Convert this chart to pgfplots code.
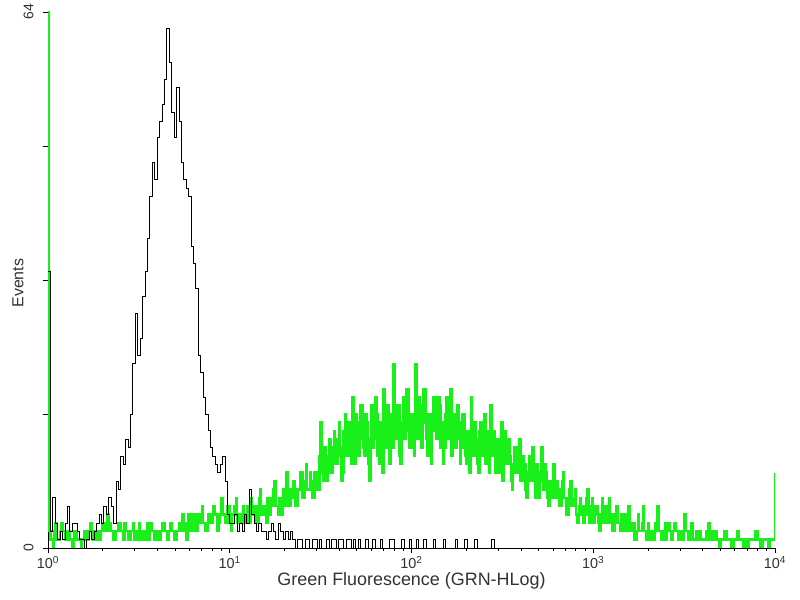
\documentclass[border=0pt]{standalone}
\usepackage{pgfplots}
\usepackage{pgfplotstable}
\pgfplotsset{compat=1.18}
\usepackage{fontspec}
\setmainfont{Liberation Sans}
\definecolor{flgreen}{RGB}{25,240,25}
\definecolor{txt}{RGB}{50,50,50}

% green histogram, channels every 1/150 decade from 10^0
\pgfplotstableread[row sep=\\,header=false]{
64\\
2\\1\\1\\0\\2\\3\\1\\1\\1\\2\\3\\2\\2\\1\\1\\2\\2\\1\\1\\0\\
1\\2\\2\\1\\1\\1\\0\\1\\1\\2\\2\\1\\1\\2\\3\\2\\1\\1\\2\\1\\
2\\1\\1\\2\\3\\2\\2\\3\\4\\2\\3\\2\\2\\1\\1\\2\\2\\3\\3\\2\\
2\\1\\3\\2\\2\\1\\1\\2\\2\\3\\1\\1\\2\\1\\3\\2\\1\\2\\2\\1\\
2\\3\\1\\2\\3\\2\\2\\1\\1\\2\\2\\1\\2\\3\\3\\2\\2\\1\\1\\2\\
3\\2\\2\\1\\1\\2\\2\\3\\3\\2\\4\\3\\2\\1\\3\\4\\2\\3\\4\\2\\
3\\4\\2\\3\\4\\3\\5\\3\\3\\2\\2\\4\\4\\3\\3\\5\\5\\4\\4\\2\\
3\\4\\6\\4\\4\\3\\3\\5\\5\\3\\2\\4\\4\\5\\6\\3\\3\\4\\4\\3\\
5\\4\\3\\5\\4\\3\\6\\4\\4\\5\\5\\3\\3\\6\\7\\4\\4\\5\\5\\3\\
6\\4\\4\\6\\5\\7\\8\\5\\5\\4\\6\\5\\4\\7\\7\\5\\9\\6\\5\\7\\
6\\8\\8\\5\\5\\7\\7\\9\\9\\6\\6\\8\\10\\7\\7\\9\\8\\6\\6\\9\\
9\\7\\7\\11\\15\\9\\8\\12\\11\\8\\9\\13\\12\\9\\10\\14\\13\\10\\11\\15\\
12\\8\\9\\14\\16\\11\\11\\15\\14\\10\\18\\13\\10\\16\\15\\11\\13\\17\\17\\12\\
11\\16\\15\\10\\8\\13\\17\\12\\13\\18\\16\\11\\10\\15\\14\\9\\19\\13\\12\\17\\
14\\10\\16\\12\\22\\14\\13\\17\\17\\11\\10\\15\\18\\13\\14\\19\\19\\12\\12\\16\\
16\\11\\22\\15\\13\\18\\17\\12\\15\\19\\19\\13\\11\\16\\16\\10\\14\\18\\18\\13\\
13\\18\\17\\12\\15\\10\\12\\16\\18\\13\\14\\19\\11\\15\\16\\12\\13\\17\\15\\10\\
12\\16\\16\\11\\10\\14\\14\\9\\18\\13\\11\\15\\13\\10\\9\\14\\15\\11\\12\\16\\
10\\13\\14\\9\\17\\12\\11\\14\\9\\12\\13\\9\\12\\15\\8\\11\\14\\10\\10\\13\\
11\\8\\7\\10\\12\\9\\9\\12\\13\\8\\8\\11\\10\\7\\6\\9\\11\\8\\9\\12\\
8\\6\\10\\7\\6\\9\\12\\8\\7\\10\\9\\6\\5\\8\\8\\6\\10\\7\\6\\8\\
7\\5\\5\\8\\9\\6\\6\\4\\4\\7\\8\\5\\5\\6\\7\\4\\3\\5\\6\\4\\
5\\3\\4\\6\\7\\4\\3\\5\\6\\3\\4\\5\\5\\3\\2\\4\\6\\3\\4\\5\\
3\\4\\6\\3\\4\\2\\2\\4\\5\\3\\3\\2\\4\\3\\2\\4\\3\\2\\5\\3\\
2\\3\\3\\1\\1\\2\\4\\2\\2\\3\\5\\2\\2\\1\\3\\2\\1\\2\\2\\1\\
3\\2\\5\\2\\2\\1\\1\\2\\3\\1\\2\\3\\2\\1\\1\\2\\3\\2\\2\\1\\
1\\2\\2\\1\\4\\2\\2\\1\\1\\2\\3\\1\\1\\1\\2\\1\\1\\2\\1\\1\\
1\\1\\2\\1\\3\\1\\1\\2\\1\\1\\2\\1\\1\\0\\1\\1\\1\\2\\2\\1\\
1\\1\\1\\0\\0\\1\\1\\1\\2\\1\\1\\1\\1\\0\\1\\1\\0\\1\\1\\1\\
1\\1\\1\\2\\2\\1\\1\\0\\0\\1\\1\\1\\1\\0\\0\\1\\1\\1\\1\\9\\
}\greendata

% black (control) histogram, channels every 1/75 decade
\pgfplotstableread[row sep=\\,header=false]{
33\\2\\6\\3\\1\\2\\1\\3\\5\\2\\3\\
3\\2\\1\\1\\0\\1\\2\\1\\2\\3\\
4\\3\\5\\4\\6\\5\\3\\8\\7\\11\\
10\\13\\12\\16\\22\\28\\23\\25\\30\\33\\
37\\42\\46\\44\\49\\51\\53\\56\\62\\58\\
52\\49\\55\\51\\46\\44\\43\\42\\36\\34\\
31\\23\\21\\18\\16\\14\\12\\11\\10\\9\\
10\\11\\8\\4\\3\\3\\4\\2\\3\\2\\
4\\3\\7\\4\\3\\2\\3\\2\\2\\1\\
2\\3\\2\\1\\3\\2\\1\\2\\1\\2\\
1\\0\\1\\1\\0\\1\\1\\0\\1\\1\\
0\\1\\0\\0\\1\\0\\1\\1\\0\\1\\
1\\0\\1\\1\\0\\1\\0\\1\\0\\0\\
1\\0\\0\\1\\0\\0\\1\\0\\0\\0\\
1\\1\\0\\0\\0\\1\\0\\0\\1\\0\\
0\\1\\0\\0\\1\\0\\0\\0\\1\\0\\
0\\0\\1\\0\\0\\0\\0\\1\\0\\0\\
0\\1\\0\\0\\0\\1\\0\\0\\0\\0\\
0\\0\\1\\0\\0\\0\\0\\0\\0\\0\\
0\\0\\0\\0\\0\\0\\0\\0\\0\\0\\
}\blackdata

\begin{document}
\begin{tikzpicture}
\useasboundingbox (0,0) rectangle (800bp,600bp);
\begin{axis}[
  at={(48bp,52bp)}, anchor=south west,
  scale only axis, width=727bp, height=536bp,
  xmode=log, xmin=1, xmax=10000,
  ymin=0, ymax=64,
  axis x line*=bottom, axis y line*=left,
  axis line style={black, line width=0.8bp, -},
  tick align=outside,
  xtick pos=bottom, ytick pos=left,
  major tick length=5bp, minor tick length=3bp,
  tick style={black, line width=0.6bp},
  xtick={1,10,100,1000,10000},
  xticklabels={10\textsuperscript{0},10\textsuperscript{1},10\textsuperscript{2},10\textsuperscript{3},10\textsuperscript{4}},
  minor xtick={2,3,4,5,6,7,8,9,20,30,40,50,60,70,80,90,200,300,400,500,600,700,800,900,2000,3000,4000,5000,6000,7000,8000,9000},
  ytick={0,16,32,48,64},
  yticklabels={0,,,,64},
  yticklabel style={rotate=90, anchor=south, yshift=6bp, font=\fontsize{14}{16}\selectfont, text=txt},
  xticklabel style={font=\fontsize{14.5}{16}\selectfont, text=txt},
  xlabel={Green Fluorescence (GRN-HLog)},
  ylabel={Events},
  xlabel style={at={(axis description cs:0.5,0)}, anchor=center, yshift=-33bp, font=\fontsize{18}{20}\selectfont, text=txt},
  ylabel style={at={(axis description cs:-0.0413,0.494)}, anchor=center, font=\fontsize{16}{18}\selectfont, text=txt},
  clip=true,
]
\addplot[const plot, color=flgreen, line width=2.4bp] table[x expr={10^(\coordindex/150)}, y index=0] {\greendata};
\addplot[const plot, color=black, line width=0.7bp] table[x expr={10^(\coordindex/75)}, y index=0] {\blackdata};
\end{axis}
\end{tikzpicture}
\end{document}
